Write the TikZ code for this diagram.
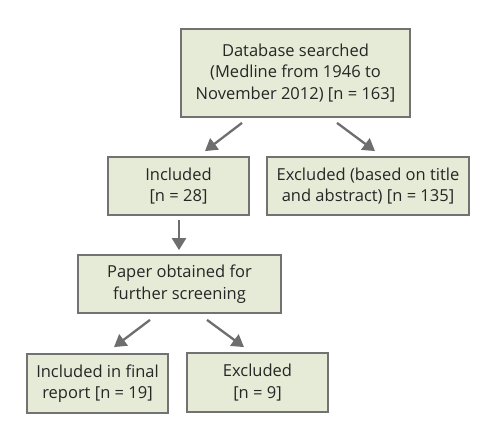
\documentclass[tikz,border=0pt]{standalone}
\usepackage{fontspec}
\setmainfont{Open Sans}
\usetikzlibrary{arrows.meta}
\definecolor{boxfill}{HTML}{E5EBD6}
\definecolor{boxline}{HTML}{727272}
\definecolor{arrcol}{HTML}{6E6E6E}
\begin{document}
\begin{tikzpicture}[x=1pt,y=-1pt,
  box/.style={draw=boxline,fill=boxfill,line width=1.8pt,inner sep=0pt,align=center,
    font=\fontsize{16.5}{21.5}\selectfont,text=black!85},
  arr/.style={draw=arrcol,line width=2.3pt,-{Triangle[length=12pt,width=14pt]}}]
\useasboundingbox (0,0) rectangle (496,441);
\fill[white] (0,0) rectangle (496,441);
\node[box,minimum width=229pt,minimum height=88pt] (top) at (295.5,73) {Database searched\\(Medline from 1946 to\\November 2012) [n = 163]};
\node[box,minimum width=141pt,minimum height=58pt] (incl) at (178.5,186) {Included\\{}[n = 28]};
\node[box,minimum width=202pt,minimum height=58pt] (exc) at (368,186) {Excluded (based on title\\and abstract) [n = 135]};
\node[box,minimum width=203pt,minimum height=58pt] (paper) at (179.5,284) {Paper obtained for\\further screening};
\node[box,minimum width=141pt,minimum height=59pt] (final) at (97.5,383.5) {Included in final\\report [n = 19]};
\node[box,minimum width=141pt,minimum height=59pt] (exc9) at (257.5,382.5) {Excluded\\{}[n = 9]};
\draw[arr] ([shift={(-53.5,5)}]top.south) -- ([shift={(26.5,-5)}]incl.north);
\draw[arr] ([shift={(41.5,5)}]top.south) -- ([shift={(7,-5)}]exc.north);
\draw[arr] ([shift={(0.5,4)}]incl.south) -- ([shift={(-0.5,-4)}]paper.north);
\draw[arr] ([shift={(-29.5,6)}]paper.south) -- ([shift={(16.5,-6)}]final.north);
\draw[arr] ([shift={(27.5,6)}]paper.south) -- ([shift={(-13.5,-5)}]exc9.north);
\end{tikzpicture}
\end{document}
